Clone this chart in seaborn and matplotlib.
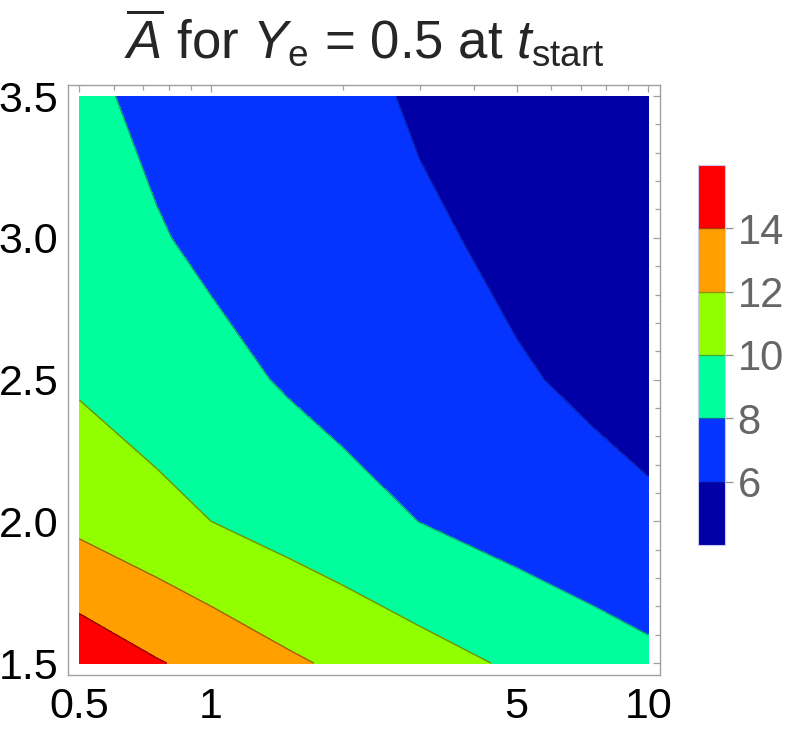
import numpy as np
import pandas as pd
import seaborn as sns
import matplotlib as mpl
from matplotlib import pyplot as plt

# grid (x is log scaled)
x_vals = [0.5, 0.75, 1, 1.5, 2, 3, 5, 7.5, 10]
y_vals = [1.5, 2.0, 2.5, 3.0, 3.5]
# estimated A-bar values at each grid node, one list per y row
a_y150 = [15.32, 14.13, 13.34, 12.30, 11.61, 10.71, 9.67, 8.92, 8.42]
a_y200 = [11.53, 10.61, 10.00, 9.20, 8.68, 7.98, 7.19, 6.64, 6.30]
a_y250 = [9.74, 8.98, 8.48, 7.82, 7.38, 6.81, 6.15, 5.67, 5.35]
a_y300 = [8.76, 8.11, 7.67, 7.10, 6.71, 6.21, 5.63, 5.21, 4.93]
a_y350 = [8.26, 7.64, 7.22, 6.67, 6.31, 5.83, 5.28, 4.87, 4.61]

levels = [4, 6, 8, 10, 12, 14, 16]
cbar_ticks = [6, 8, 10, 12, 14]
fill_colors = ['#0000a6', '#0533ff', '#00ff9c', '#91ff00', '#ffa000', '#ff0000']
line_colors = ['#0a1e9a', '#0f8a70', '#5e7a00', '#8a5200', '#7a0000']

df = pd.DataFrame([a_y150, a_y200, a_y250, a_y300, a_y350], index=y_vals, columns=x_vals)

sns.set_style('white')
plt.rcParams['font.family'] = ['Liberation Sans', 'DejaVu Sans']
plt.rcParams['mathtext.fontset'] = 'custom'
plt.rcParams['mathtext.rm'] = 'Liberation Sans'
plt.rcParams['mathtext.it'] = 'Liberation Sans:italic'

fig = plt.figure(figsize=(7.89, 7.34), dpi=100)
ax = fig.add_axes([0.0862, 0.0804, 0.7503, 0.8038])
ax.set_xscale('log')

X, Y = np.meshgrid(df.columns.values.astype(float), df.index.values.astype(float))
Z = df.values
cf = ax.contourf(X, Y, Z, levels=levels, colors=fill_colors)
ax.contour(X, Y, Z, levels=levels[1:-1], colors=line_colors, linewidths=1.0, alpha=0.8)

ax.set_xlim(0.4708, 10.635)
ax.set_ylim(1.458, 3.539)

ax.xaxis.set_major_locator(mpl.ticker.FixedLocator([0.5, 1, 5, 10]))
ax.xaxis.set_major_formatter(mpl.ticker.FixedFormatter(['0.5', '1', '5', '10']))
ax.xaxis.set_minor_locator(mpl.ticker.FixedLocator([0.6, 0.7, 0.8, 0.9, 2, 3, 4, 6, 7, 8, 9]))
ax.xaxis.set_minor_formatter(mpl.ticker.NullFormatter())
ax.yaxis.set_major_locator(mpl.ticker.FixedLocator([1.5, 2.0, 2.5, 3.0, 3.5]))
ax.yaxis.set_major_formatter(mpl.ticker.FormatStrFormatter('%.1f'))
ax.yaxis.set_minor_locator(mpl.ticker.MultipleLocator(0.1))

for s in ax.spines.values():
    s.set_color('#a0a0a0')
    s.set_linewidth(1.0)
ax.tick_params(which='both', direction='in', top=True, right=True, color='#a0a0a0',
               labelsize=31, labelcolor='black', width=0.9)
ax.tick_params(which='major', length=5)
ax.tick_params(which='minor', length=3.5)
ax.tick_params(axis='x', which='major', pad=9)
ax.tick_params(axis='y', which='major', pad=7)

ax.set_title(r'$\overline{A}$ for $Y_{\rm e}$ = 0.5 at $t_{\rm start}$', fontsize=38, pad=20)

cax = fig.add_axes([0.8847, 0.2575, 0.0342, 0.5177])
cb = fig.colorbar(cf, cax=cax, ticks=cbar_ticks)
cb.outline.set_edgecolor('#c8c8f0')
cb.outline.set_linewidth(0.8)
cb.ax.tick_params(direction='out', length=6, width=0.9, color='#909090',
                  labelsize=30, labelcolor='#666666', pad=3)
for lvl, c in zip(levels[1:-1], line_colors):
    cb.ax.axhline(lvl, color=c, lw=1.0, alpha=0.6)

fig.savefig('out.png', dpi=100)
